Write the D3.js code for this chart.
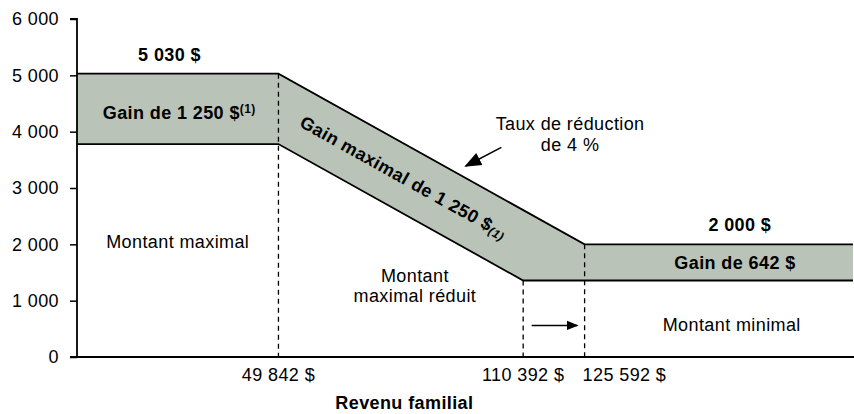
<!DOCTYPE html>
<html>
<head>
<meta charset="utf-8">
<script src="https://cdn.jsdelivr.net/npm/d3@7"></script>
<style>
  body { margin: 0; background: #fff; }
  svg { display: block; font-family: Arial, "Liberation Sans", sans-serif; }
  .lbl { font-size: 18px; fill: #000; letter-spacing: 0.4px; }
  .bold { font-weight: bold; }
</style>
</head>
<body>
<div id="chart"></div>
<script>
var width = 854;
var height = 414;

// income thresholds (x axis labels)
var incomeTicks = [49842, 110392, 125592];
var xMax = 192000;

// top of the grey band: maximal amount + gain
var upperX = [0, 49842, 125592, xMax];
var upperY = [5030, 5030, 2000, 2000];
// bottom of the band: amount without the gain
var lowerX = [0, 49842, 110392, xMax];
var lowerY = [3780, 3780, 1358, 1358];

var yTicks = [0, 1000, 2000, 3000, 4000, 5000, 6000];

var fr = d3.formatLocale({ decimal: ",", thousands: " ", grouping: [3], currency: ["", " $"] });
var fmt = fr.format(",d");

var margin = { top: 19, right: 0, bottom: 57, left: 77 };

var x = d3.scaleLinear().domain([0, xMax]).range([margin.left, width - 1]);
var y = d3.scaleLinear().domain([0, 6000]).range([height - margin.bottom, margin.top]);

var svg = d3.select("#chart").append("svg")
    .attr("width", width)
    .attr("height", height);

var defs = svg.append("defs");
function marker(id, size) {
  defs.append("marker")
      .attr("id", id)
      .attr("viewBox", "0 0 10 10")
      .attr("refX", 9).attr("refY", 5)
      .attr("markerWidth", size).attr("markerHeight", size)
      .attr("markerUnits", "userSpaceOnUse")
      .attr("orient", "auto")
    .append("path")
      .attr("d", "M0,1L10,5L0,9Z")
      .attr("fill", "#000");
}
marker("arrow", 12);
marker("arrowBig", 17);

// band polygon
var upperPts = upperX.map(function(d, i) { return [x(d), y(upperY[i])]; });
var lowerPts = lowerX.map(function(d, i) { return [x(d), y(lowerY[i])]; });

svg.append("path")
    .attr("d", d3.line()(upperPts.concat(lowerPts.slice().reverse())) + "Z")
    .attr("fill", "#bac3b7");

var line = d3.line();
svg.append("path").attr("d", line(upperPts)).attr("fill", "none").attr("stroke", "#000").attr("stroke-width", 1.8);
svg.append("path").attr("d", line(lowerPts)).attr("fill", "none").attr("stroke", "#000").attr("stroke-width", 1.8);

// dashed verticals at the thresholds
function valAt(xs, ys, v) {
  for (var i = 1; i < xs.length; i++) {
    if (v <= xs[i]) {
      var t = (v - xs[i - 1]) / (xs[i] - xs[i - 1]);
      return ys[i - 1] + t * (ys[i] - ys[i - 1]);
    }
  }
  return ys[ys.length - 1];
}
var dashTop = [valAt(upperX, upperY, incomeTicks[0]), valAt(lowerX, lowerY, incomeTicks[1]), valAt(upperX, upperY, incomeTicks[2])];

svg.selectAll(".vdash")
    .data(incomeTicks)
  .enter().append("line")
    .attr("class", "vdash")
    .attr("x1", function(d) { return x(d); })
    .attr("x2", function(d) { return x(d); })
    .attr("y1", function(d, i) { return y(dashTop[i]); })
    .attr("y2", y(0))
    .attr("stroke", "#000")
    .attr("stroke-width", 1.3)
    .attr("stroke-dasharray", "5,4");

// axes
var yAxis = d3.axisLeft(y).tickValues(yTicks).tickFormat(fmt).tickSize(7).tickPadding(11);
var gy = svg.append("g").attr("transform", "translate(" + margin.left + ",0)").call(yAxis);
gy.select(".domain").attr("d", "M-7," + y(6000) + "H0V" + y(0)).attr("stroke-width", 1.8);
gy.selectAll(".tick line").attr("stroke-width", 1.5);
gy.selectAll(".tick text")
    .attr("font-size", 18)
    .attr("letter-spacing", "0.4px")
    .attr("font-family", "Arial, 'Liberation Sans', sans-serif")
    .attr("fill", "#000");

svg.append("line")
    .attr("x1", margin.left - 7).attr("x2", width)
    .attr("y1", y(0)).attr("y2", y(0))
    .attr("stroke", "#000").attr("stroke-width", 1.8);

// the last label sits right of its threshold so it does not hit its neighbour
var xLabAnchor = ["middle", "middle", "start"];
svg.selectAll(".xlab")
    .data(incomeTicks)
  .enter().append("text")
    .attr("class", "lbl xlab")
    .attr("x", function(d, i) { return x(d) + (i === 2 ? -2 : 0); })
    .attr("y", y(0) + 24)
    .attr("text-anchor", function(d, i) { return xLabAnchor[i]; })
    .text(function(d) { return fmt(d) + " $"; });

svg.append("text")
    .attr("class", "lbl bold")
    .attr("x", x(81000))
    .attr("y", height - 5)
    .attr("text-anchor", "middle")
    .text("Revenu familial");

// labels in the chart
function label(xv, yv, txt, cls, dy) {
  return svg.append("text")
      .attr("class", "lbl " + (cls || ""))
      .attr("x", x(xv))
      .attr("y", y(yv) + (dy || 0))
      .attr("text-anchor", "middle")
      .text(txt);
}

label(22900, upperY[0], "5 030 $", "bold", -13);
var g1 = label(25300, lowerY[0], "Gain de 1 250 $", "bold", -25);
g1.append("tspan").attr("font-size", 12).attr("dy", -6).text("(1)");
label(24921, 2000, "Montant maximal", "", 4);

label(83600, 1358, "Montant", "", 2);
label(83600, 1358, "maximal réduit", "", 22);

label(164000, upperY[3], "2 000 $", "bold", -13);
label(162800, lowerY[3], "Gain de 642 $", "bold", -11);
label(162000, 0, "Montant minimal", "", -26);

label(122000, 4000, "Taux de réduction", "", -2);
label(122000, 4000, "de 4 %", "", 19);

// rotated label along the slope
var ang = Math.atan2(y(upperY[2]) - y(upperY[1]), x(upperX[2]) - x(upperX[1])) * 180 / Math.PI;
var midX = 80000;
var midY = (valAt(upperX, upperY, midX) + valAt(lowerX, lowerY, midX)) / 2;
var rot = svg.append("text")
    .attr("class", "lbl bold")
    .attr("text-anchor", "middle")
    .attr("letter-spacing", "0.8px")
    .attr("transform", "translate(" + x(midX) + "," + (y(midY) + 6) + ") rotate(" + ang + ")")
    .text("Gain maximal de 1 250 $");
rot.append("tspan").attr("font-size", 12).attr("font-style", "italic").attr("dy", 2).text("(1)");

// arrows
svg.append("line")
    .attr("x1", x(105000)).attr("y1", y(3720))
    .attr("x2", x(96200)).attr("y2", y(3390))
    .attr("stroke", "#000").attr("stroke-width", 1.5)
    .attr("marker-end", "url(#arrowBig)");

svg.append("line")
    .attr("x1", x(112500)).attr("y1", y(560))
    .attr("x2", x(123800)).attr("y2", y(560))
    .attr("stroke", "#000").attr("stroke-width", 1.5)
    .attr("marker-end", "url(#arrow)");
</script>
</body>
</html>
